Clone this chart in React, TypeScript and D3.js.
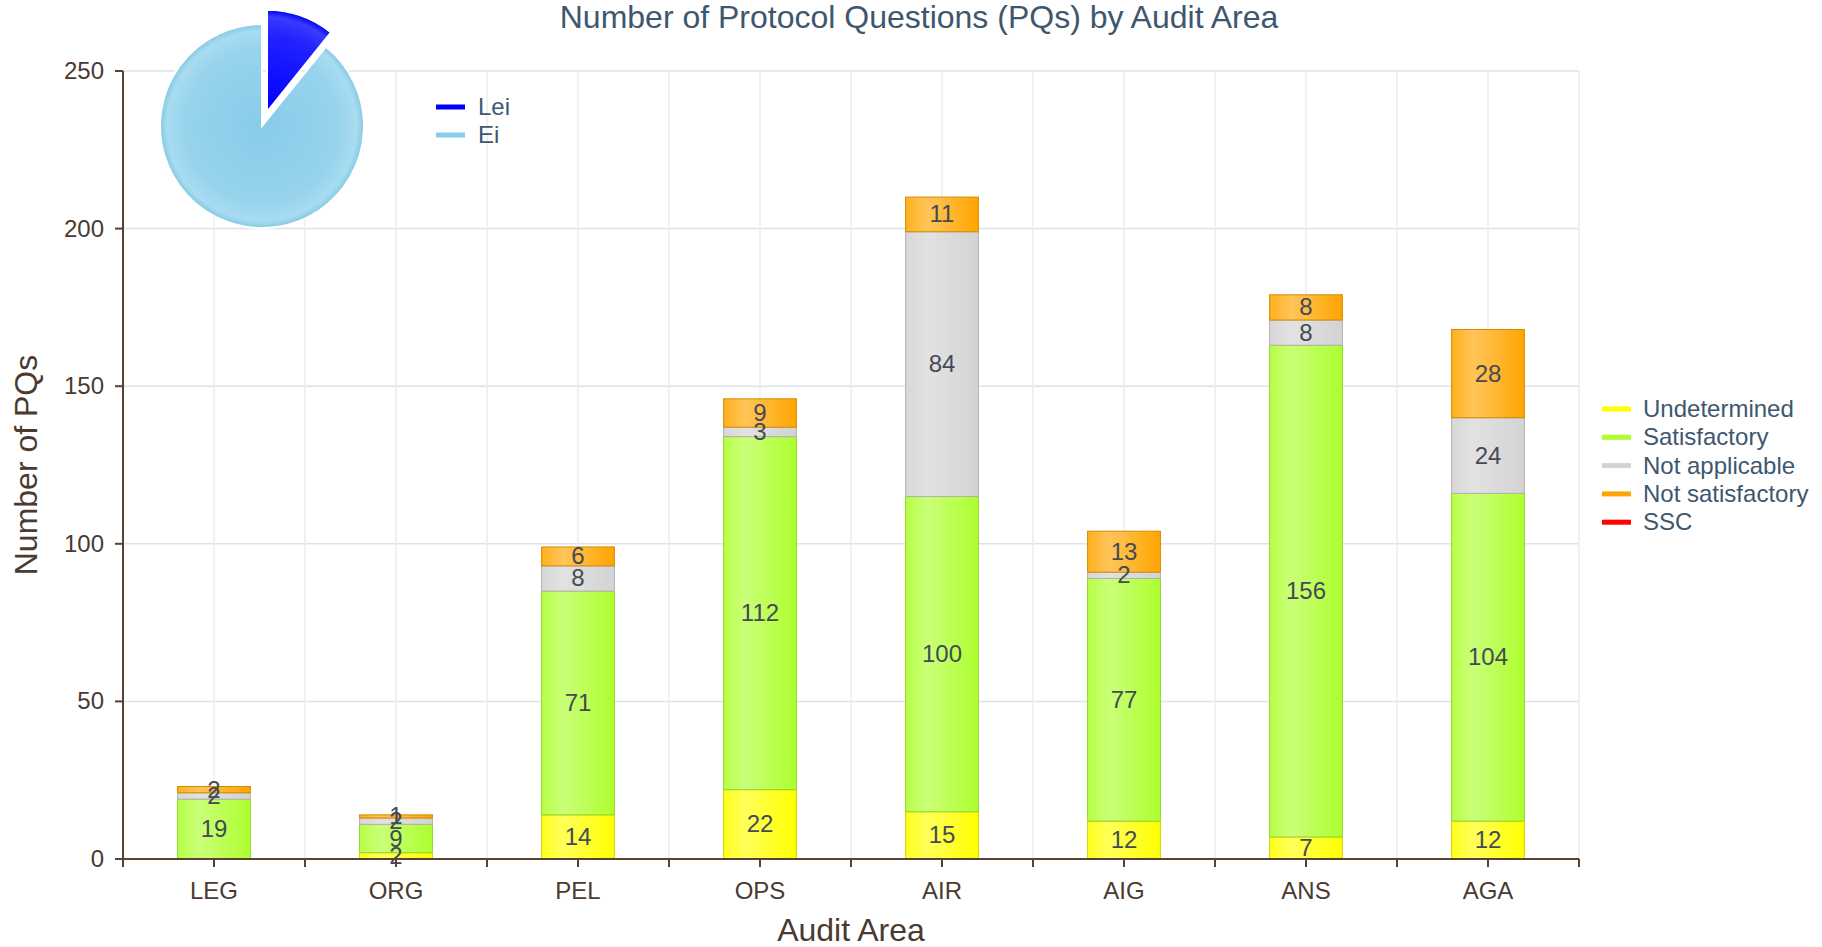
import React from "react";
import * as d3 from "d3";

const categories = ["LEG", "ORG", "PEL", "OPS", "AIR", "AIG", "ANS", "AGA"];
const undetermined = [0, 2, 14, 22, 15, 12, 7, 12];
const satisfactory = [19, 9, 71, 112, 100, 77, 156, 104];
const notApplicable = [2, 2, 8, 3, 84, 2, 8, 24];
const notSatisfactory = [2, 1, 6, 9, 11, 13, 8, 28];
const ssc = [0, 0, 0, 0, 0, 0, 0, 0];
const yTicks = [0, 50, 100, 150, 200, 250];

const pieLabels = ["Lei", "Ei"];
const pieValues = [10.8, 89.2];

const seriesNames = ["Undetermined", "Satisfactory", "Not applicable", "Not satisfactory", "SSC"];
const seriesData = [undetermined, satisfactory, notApplicable, notSatisfactory, ssc];
const seriesColors = ["#FFFF00", "#ADFF2F", "#D3D3D3", "#FFA500", "#FF0000"];
const pieColors = ["#0000FF", "#87CEEB"];

const W = 1822, H = 947;
const L = 123, R = 1579, T = 71, B = 859;
const FONT = "'Liberation Sans', Arial, sans-serif";

export default function App() {
  const x = d3.scaleBand().domain(categories).range([L, R]).paddingInner(0).paddingOuter(0);
  const y = d3.scaleLinear().domain([0, 250]).range([B, T]);
  const bw = x.bandwidth() * 0.4;

  const halfTicks: number[] = [];
  for (let i = 0; i <= categories.length * 2; i++) halfTicks.push(L + (i * x.bandwidth()) / 2);

  const pie = d3.pie<number>().sort(null).startAngle(0).endAngle(2 * Math.PI)(pieValues);
  const arc = d3.arc<d3.PieArcDatum<number>>().innerRadius(0).outerRadius(102);
  const pcx = 262, pcy = 126, off = 15;

  const segs: React.ReactNode[] = [];
  const labels: React.ReactNode[] = [];
  categories.forEach((c, i) => {
    let acc = 0;
    seriesData.forEach((s, si) => {
      const v = s[i];
      const y0 = y(acc), y1 = y(acc + v);
      acc += v;
      if (v <= 0) return;
      const bx = (x(c) as number) + x.bandwidth() / 2 - bw / 2;
      segs.push(
        <rect key={`s${si}-${i}`} x={bx} y={y1} width={bw} height={y0 - y1}
          fill={`url(#g${si})`} stroke={d3.color(seriesColors[si])!.darker(0.5).toString()} strokeWidth={1} />
      );
      labels.push(
        <text key={`l${si}-${i}`} x={bx + bw / 2} y={(y0 + y1) / 2 + 8} textAnchor="middle"
          fontSize={24} fill="#454a55" fontFamily={FONT}>{v}</text>
      );
    });
  });

  return (
    <svg width={W} height={H} style={{ position: "absolute", left: 0, top: 0 }}>
      <defs>
        {seriesColors.map((col, i) => {
          const c = d3.color(col)!;
          return (
            <linearGradient key={i} id={`g${i}`} x1="0" x2="1" y1="0" y2="0">
              <stop offset="0" stopColor={d3.interpolateRgb(col, "#ffffff")(0.12)} />
              <stop offset="0.3" stopColor={d3.interpolateRgb(col, "#ffffff")(0.35)} />
              <stop offset="1" stopColor={c.toString()} />
            </linearGradient>
          );
        })}
        <radialGradient id="pg1" cx={0} cy={0} r={102} gradientUnits="userSpaceOnUse">
          <stop offset="0" stopColor="#88cce9" />
          <stop offset="0.75" stopColor="#97d3ed" />
          <stop offset="0.93" stopColor="#a8dcf0" />
          <stop offset="1" stopColor="#84c8e4" />
        </radialGradient>
        <radialGradient id="pg0" cx={0} cy={0} r={102} gradientUnits="userSpaceOnUse">
          <stop offset="0" stopColor="#0000ff" />
          <stop offset="0.75" stopColor="#2222ff" />
          <stop offset="0.93" stopColor="#3a3aff" />
          <stop offset="1" stopColor="#0000ee" />
        </radialGradient>
      </defs>

      {/* grid */}
      {yTicks.map((t) => (
        <line key={`gy${t}`} x1={L} x2={R} y1={y(t)} y2={y(t)} stroke="#dbe2ec" strokeWidth={1.5} />
      ))}
      {halfTicks.map((hx, i) => (
        <line key={`gx${i}`} x1={hx} x2={hx} y1={T} y2={B} stroke="#ececf0" strokeWidth={1.5} />
      ))}

      {/* bars */}
      {segs}
      {labels}

      {/* axes */}
      <line x1={L} x2={L} y1={T} y2={B} stroke="#5a4233" strokeWidth={2} />
      <line x1={L} x2={R} y1={B} y2={B} stroke="#5a4233" strokeWidth={2} />
      {yTicks.map((t) => (
        <g key={`ty${t}`}>
          <line x1={L - 8} x2={L} y1={y(t)} y2={y(t)} stroke="#5a4233" strokeWidth={2} />
          <text x={104} y={y(t) + 8} textAnchor="end" fontSize={24} fill="#4a3a30" fontFamily={FONT}>{t}</text>
        </g>
      ))}
      {halfTicks.map((hx, i) => (
        <line key={`tx${i}`} x1={hx} x2={hx} y1={B} y2={B + 8} stroke="#5a4233" strokeWidth={2} />
      ))}
      {categories.map((c) => (
        <text key={`xl${c}`} x={(x(c) as number) + x.bandwidth() / 2} y={899} textAnchor="middle"
          fontSize={24} fill="#4a3a30" fontFamily={FONT}>{c}</text>
      ))}
      <text x={851} y={941} textAnchor="middle" fontSize={32} fill="#4a3a30" fontFamily={FONT}>Audit Area</text>
      <text transform="translate(37,465) rotate(-90)" textAnchor="middle" fontSize={32} fill="#4a3a30" fontFamily={FONT}>Number of PQs</text>

      {/* title */}
      <text x={919} y={28} textAnchor="middle" fontSize={32} fill="#3E576F" fontFamily={FONT}>
        Number of Protocol Questions (PQs) by Audit Area
      </text>

      {/* pie */}
      {pie.map((p, i) => {
        const mid = (p.startAngle + p.endAngle) / 2;
        const d = i === 0 ? off : 0;
        const tx = pcx + Math.sin(mid) * d, ty = pcy - Math.cos(mid) * d;
        return (
          <path key={`p${i}`} d={arc(p) as string}
            transform={`translate(${tx},${ty})`}
            fill={i === 0 ? "url(#pg0)" : "url(#pg1)"} stroke="#ffffff" strokeWidth={2}
          />
        );
      })}
      {pieLabels.map((n, i) => (
        <g key={`pl${n}`}>
          <line x1={436} x2={465} y1={107 + i * 28} y2={107 + i * 28} stroke={pieColors[i]} strokeWidth={5} />
          <text x={478} y={115 + i * 28} fontSize={24} fill="#3E576F" fontFamily={FONT}>{n}</text>
        </g>
      ))}

      {/* legend */}
      {seriesNames.map((n, i) => (
        <g key={`lg${n}`}>
          <line x1={1602} x2={1631} y1={409 + i * 28.3} y2={409 + i * 28.3} stroke={seriesColors[i]} strokeWidth={5} />
          <text x={1643} y={417 + i * 28.3} fontSize={24} fill="#3E576F" fontFamily={FONT}>{n}</text>
        </g>
      ))}
    </svg>
  );
}
